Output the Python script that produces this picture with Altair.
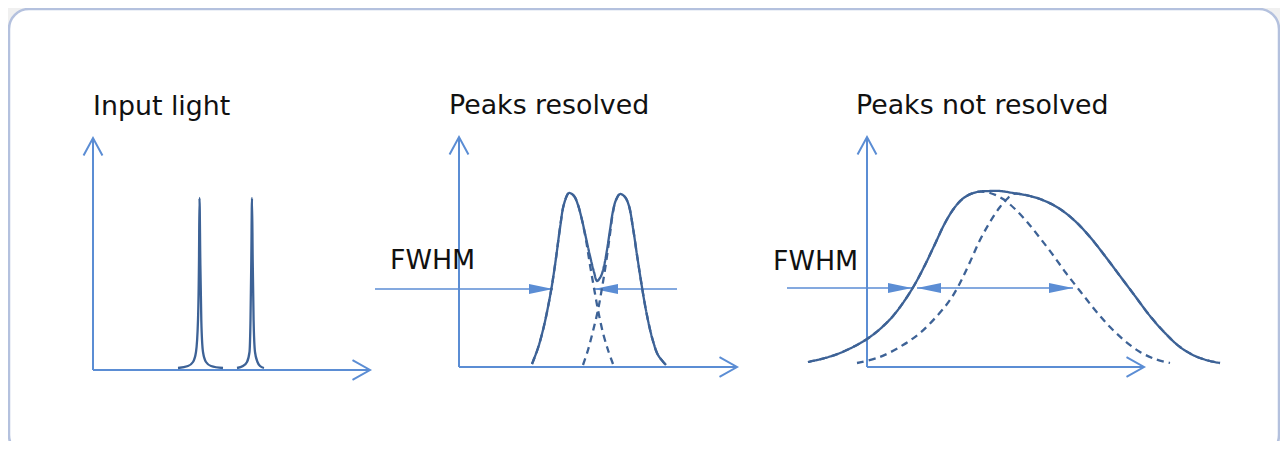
import altair as alt
import pandas as pd

# ---------------- data (drawing units = pixels of the 1288x457 figure) ----------------
# Panel titles and labels
label_text = ["Input light", "Peaks resolved", "Peaks not resolved", "FWHM", "FWHM"]
label_x = [93, 449, 856, 390, 773]
label_y = [115, 114, 114, 269, 270]

# Axes of the three panels (origin, top of y-axis, end of x-axis)
axis_origin_x = [93, 459, 867]
axis_origin_y = [370, 367, 367]
axis_top_y = [138, 137, 137]
axis_end_x = [370, 737, 1144]

# FWHM arrow lines (x start, x end, y)
fwhm_x1 = [375, 594, 787, 917]
fwhm_x2 = [553, 677, 912, 1073]
fwhm_y = [289, 289, 288, 288]
# arrowhead tips
head_right_x = [553, 912, 1073]
head_right_y = [289, 288, 288]
head_left_x = [594, 917]
head_left_y = [289, 288]

# Panel 1: input light, two narrow lines
p1a_x = [178, 188, 193, 196, 198, 199, 199.5, 200.3, 201.3, 203, 206, 211, 223]
p1a_y = [368, 366, 362, 352, 320, 260, 198, 260, 320, 352, 362, 366, 368]
p1b_x = [237, 243, 247, 249.5, 250.5, 251.3, 252, 252.7, 253.6, 255, 257.5, 260, 264]
p1b_y = [368, 366, 362, 352, 320, 260, 198, 260, 320, 352, 362, 366, 368]

# Panel 2: peaks resolved (sum, solid)
p2_sum_x = [532, 538, 543, 548, 552, 556, 560, 564, 569, 574, 578, 582, 586, 590, 594, 597,
            601, 604, 607, 610, 613, 616, 620, 625, 629, 633, 637, 641, 645, 649, 653, 658, 666]
p2_sum_y = [364, 348, 330, 307, 285, 258, 228, 204, 193, 196, 205, 220, 238, 256, 272, 281,
            276, 266, 250, 230, 211, 200, 194, 197, 206, 228, 255, 281, 305, 325, 341, 355, 365]
# component peaks (dashed)
p2_left_x = [532, 538, 543, 548, 552, 556, 560, 564, 569, 574, 578, 582, 586, 590, 594, 598, 603, 608, 613]
p2_left_y = [364, 348, 330, 307, 285, 258, 228, 204, 193, 196, 205, 220, 240, 265, 288, 310, 333, 350, 364]
p2_right_x = [583, 588, 593, 598, 602, 606, 610, 613, 616, 620, 625, 629, 633, 637, 641, 645, 649, 653, 658, 666]
p2_right_y = [365, 350, 331, 310, 288, 263, 234, 212, 200, 194, 197, 206, 228, 255, 281, 305, 325, 341, 355, 365]

# Panel 3: peaks not resolved (sum, solid)
p3_sum_x = [808, 825, 840, 855, 867, 880, 893, 905, 915, 925, 935, 945, 955, 965, 977, 990,
            1000, 1013, 1030, 1045, 1060, 1075, 1090, 1105, 1120, 1135, 1150, 1165, 1180,
            1195, 1210, 1220]
p3_sum_y = [362, 358, 353, 346, 339, 329, 316, 300, 284, 265, 244, 223, 207, 197, 192, 191,
            191, 193, 196, 201, 209, 221, 237, 256, 276, 296, 316, 333, 347,
            356, 361, 363]
p3_left_x = [808, 825, 840, 855, 867, 880, 893, 905, 915, 925, 935, 945, 955, 965, 977,
             990, 1003, 1015, 1028, 1040, 1053, 1066, 1080, 1095, 1110, 1125, 1140, 1155, 1170]
p3_left_y = [362, 358, 353, 346, 339, 329, 316, 300, 284, 265, 244, 223, 207, 197, 192,
             193, 199, 209, 223, 238, 255, 273, 291, 310, 327, 341, 352, 359, 363]
p3_right_x = [857, 880, 903, 920, 937, 950, 960, 970, 980, 990, 1000, 1007, 1013,
              1030, 1045, 1060, 1075, 1090, 1105, 1120, 1135, 1150, 1165, 1180, 1195, 1210, 1220]
p3_right_y = [363, 357, 345, 333, 316, 300, 283, 262, 240, 222, 207, 199, 194,
              196, 201, 209, 221, 237, 256, 276, 296, 316, 333, 347, 356, 361, 363]

# Frame box (its bottom edge lies below the visible page, as in the reference)
box_x1, box_x2, box_y1, box_y2 = [9], [1279], [9], [455]

# ---------------- build tables ----------------
def curve_table(curves):
    rows = []
    for cid, style, xs_, ys_ in curves:
        for i, (xv, yv) in enumerate(zip(xs_, ys_)):
            rows.append({"curve": cid, "style": style, "i": i, "x": xv, "y": yv})
    return pd.DataFrame(rows)

spike_df = curve_table([("p1a", "solid", p1a_x, p1a_y), ("p1b", "solid", p1b_x, p1b_y)])
curve_df = curve_table([
    ("p2sum", "solid", p2_sum_x, p2_sum_y),
    ("p2left", "dashed", p2_left_x, p2_left_y),
    ("p2right", "dashed", p2_right_x, p2_right_y),
    ("p3sum", "solid", p3_sum_x, p3_sum_y),
    ("p3left", "dashed", p3_left_x, p3_left_y),
    ("p3right", "dashed", p3_right_x, p3_right_y),
])

axis_rows = []
for ox, oy, ty, ex in zip(axis_origin_x, axis_origin_y, axis_top_y, axis_end_x):
    axis_rows.append({"x": ox, "y": oy, "x2": ox, "y2": ty})
    axis_rows.append({"x": ox, "y": oy, "x2": ex, "y2": oy})
axis_df = pd.DataFrame(axis_rows)

up_df = pd.DataFrame({"x": axis_origin_x, "y": axis_top_y})
right_df = pd.DataFrame({"x": axis_end_x, "y": axis_origin_y})

fwhm_df = pd.DataFrame({"x": fwhm_x1, "x2": fwhm_x2, "y": fwhm_y})
hr_df = pd.DataFrame({"x": head_right_x, "y": head_right_y})
hl_df = pd.DataFrame({"x": head_left_x, "y": head_left_y})
label_df = pd.DataFrame({"text": label_text, "x": label_x, "y": label_y})
box_df = pd.DataFrame({"x": box_x1, "x2": box_x2, "y": box_y1, "y2": box_y2})

# ---------------- chart ----------------
W, H = 1272, 433
xs = alt.Scale(domain=[8, 8 + W], nice=False, zero=False)
ys = alt.Scale(domain=[8, 8 + H], nice=False, zero=False, reverse=True)
X = alt.X("x:Q", scale=xs, axis=None)
Y = alt.Y("y:Q", scale=ys, axis=None)

AXIS_COLOR = "#5b8dd4"
CURVE_COLOR = "#3d6296"
DASH = alt.StrokeDash("style:N", scale=alt.Scale(
    domain=["solid", "dashed"], range=[[1, 0], [7, 5]]), legend=None)

box = alt.Chart(box_df).mark_rect(
    cornerRadius=20, fill="white", stroke="#b4c1de", strokeWidth=2.5
).encode(x=X, x2="x2:Q", y=Y, y2="y2:Q")

axes = alt.Chart(axis_df).mark_rule(color=AXIS_COLOR, strokeWidth=2).encode(
    x=X, y=Y, x2="x2:Q", y2="y2:Q")

up_heads = alt.Chart(up_df).mark_point(
    shape="M-0.54,1L0,0L0.54,1", size=1225, filled=False, color=AXIS_COLOR,
    strokeWidth=2, opacity=1
).encode(x=X, y=Y)
right_heads = alt.Chart(right_df).mark_point(
    shape="M-1,-0.57L0,0L-1,0.57", size=1225, filled=False, color=AXIS_COLOR,
    strokeWidth=2, opacity=1
).encode(x=X, y=Y)

fwhm = alt.Chart(fwhm_df).mark_rule(color=AXIS_COLOR, strokeWidth=1.7).encode(
    x=X, x2="x2:Q", y=Y)
hr = alt.Chart(hr_df).mark_point(
    shape="M0,0L-2,-0.42L-2,0.42Z", size=576, filled=True, color=AXIS_COLOR,
    opacity=1, strokeWidth=0
).encode(x=X, y=Y)
hl = alt.Chart(hl_df).mark_point(
    shape="M0,0L2,-0.42L2,0.42Z", size=576, filled=True, color=AXIS_COLOR,
    opacity=1, strokeWidth=0
).encode(x=X, y=Y)

spikes = alt.Chart(spike_df).mark_line(
    color=CURVE_COLOR, strokeWidth=2.3, interpolate="monotone"
).encode(x=X, y=Y, detail="curve:N", order="i:Q")

lines = alt.Chart(curve_df).mark_line(
    color=CURVE_COLOR, strokeWidth=2.3, interpolate="catmull-rom"
).encode(x=X, y=Y, detail="curve:N", order="i:Q", strokeDash=DASH)

labels = alt.Chart(label_df).mark_text(
    align="left", baseline="alphabetic", font="DejaVu Sans", fontSize=26.8,
    color="#111111"
).encode(x=X, y=Y, text="text:N")

chart = alt.layer(box, axes, up_heads, right_heads, fwhm, hr, hl, spikes, lines, labels).properties(
    width=W, height=H, padding=0, autosize=alt.AutoSizeParams(type="none"),
    background="#f0f0f0"
).configure_view(stroke=None)

chart.save("out.html", embed_options={"renderer": "svg", "actions": False})
